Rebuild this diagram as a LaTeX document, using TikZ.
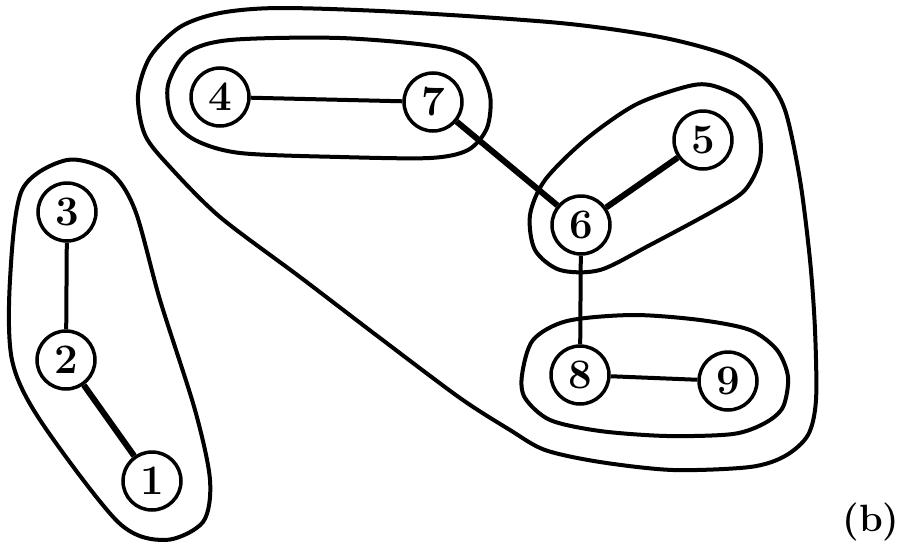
\documentclass[tikz,border=0pt]{standalone}
\begin{document}
\begin{tikzpicture}[x=1pt,y=-1pt,
  vert/.style={circle,draw,line width=3.5pt,minimum size=58pt,inner sep=0pt,font=\fontsize{42}{42}\selectfont\bfseries},
  edge/.style={line width=4pt},
  thickedge/.style={line width=6pt},
  hull/.style={line width=4pt}]
\path[use as bounding box] (0,0) rectangle (902,557);
\node[vert] (n3) at (67,212) {3};
\node[vert] (n2) at (66,360) {2};
\node[vert] (n1) at (152,481) {1};
\node[vert] (n4) at (220,97) {4};
\node[vert] (n7) at (433,102) {7};
\node[vert] (n5) at (703,140) {5};
\node[vert] (n6) at (581,225) {6};
\node[vert] (n8) at (580,375) {8};
\node[vert] (n9) at (728,381) {9};
\node[font=\fontsize{38}{38}\selectfont\bfseries] (lb) at (871,522) {(b)};
\draw[edge] (n3) -- (n2);
\draw[thickedge] (n2) -- (n1);
\draw[edge] (n4) -- (n7);
\draw[thickedge] (n7) -- (n6);
\draw[thickedge] (n6) -- (n5);
\draw[edge] (n6) -- (n8);
\draw[edge] (n8) -- (n9);
% left hull
\draw[hull] plot[smooth cycle] coordinates {(67,160) (110,172) (135,210) (160,300) (195,410) (210,480) (203,522) (165,540) (118,522) (40,420) (12,360) (10,280) (22,190)};
% big hull
\draw[hull] plot[smooth cycle] coordinates {(280,8) (400,12) (560,23) (660,37) (727,55) (765,78) (785,110) (800,180) (810,260) (815,330) (816,400) (808,435) (785,456) (750,467) (673,470) (600,462) (545,450) (510,430) (460,398) (380,338) (300,277) (220,217) (170,167) (145,135) (138,95) (150,57) (180,27) (220,13)};
% hull 4-7
\draw[hull] plot[smooth cycle] coordinates {(168,85) (187,53) (230,40) (340,38) (440,47) (475,63) (490,95) (487,128) (468,150) (430,158) (340,157) (240,153) (195,140) (172,118)};
% hull 5-6
\draw[hull] plot[smooth cycle] coordinates {(530,215) (545,180) (585,140) (635,105) (685,87) (710,85) (740,98) (758,125) (760,160) (745,190) (715,210) (650,245) (600,270) (560,270) (535,250)};
% hull 8-9
\draw[hull] plot[smooth cycle] coordinates {(522,375) (533,340) (567,321) (633,315) (700,320) (750,330) (777,350) (788,377) (783,407) (765,423) (733,434) (667,436) (600,431) (550,420) (525,398)};
\end{tikzpicture}
\end{document}
